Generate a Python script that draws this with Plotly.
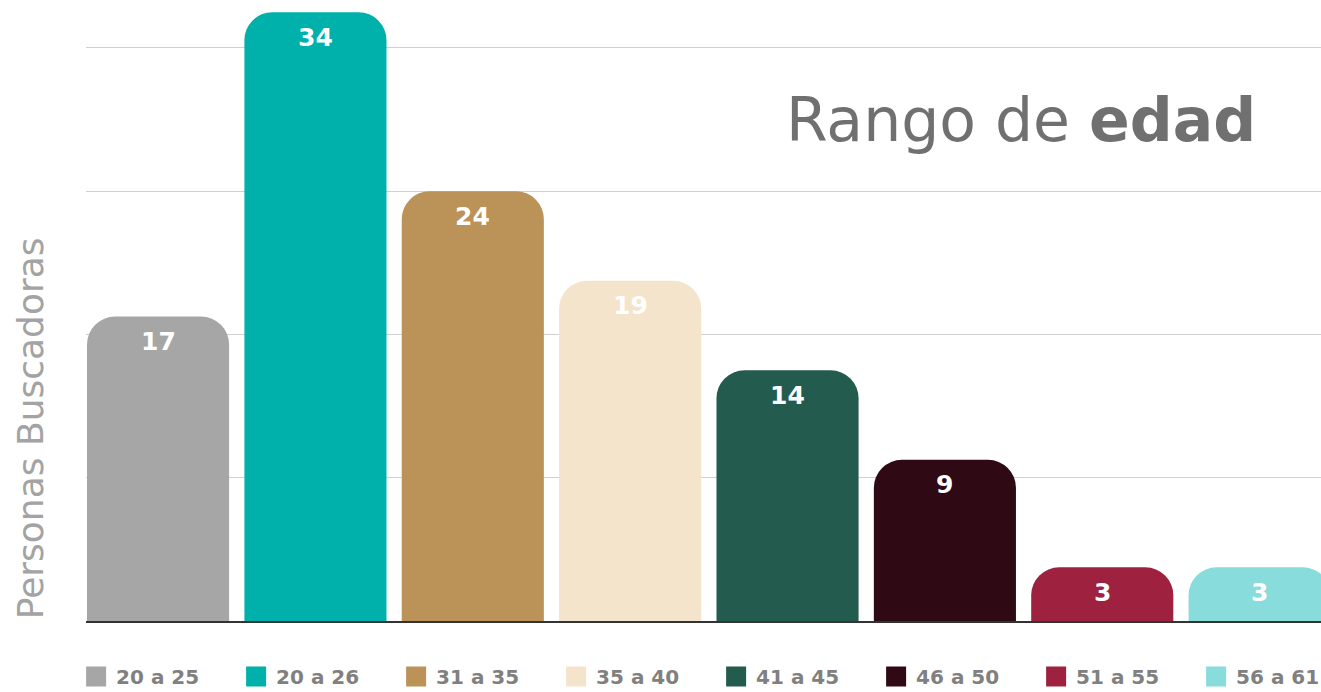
import plotly.graph_objects as go

categories = ["20 a 25", "20 a 26", "31 a 35", "35 a 40", "41 a 45", "46 a 50", "51 a 55", "56 a 61"]
values = [17, 34, 24, 19, 14, 9, 3, 3]
colors = ["#a6a6a6", "#00b0aa", "#bb9257", "#f3e4cb", "#235b4e", "#2f0a14", "#9e2140", "#88dcdb"]
grid_ticks = [8, 16, 24, 32]

fig = go.Figure()
for cat, val, col in zip(categories, values, colors):
    fig.add_trace(go.Bar(x=[cat], y=[val], marker=dict(color=col, cornerradius=28, line=dict(width=0)),
                         showlegend=False, hoverinfo="skip"))
for cat, col in zip(categories, colors):
    fig.add_trace(go.Scatter(x=[None], y=[None], mode="markers", name=cat,
                             marker=dict(symbol="square", size=20, color=col,
                                         line=dict(color=col, width=4))))

for cat, val in zip(categories, values):
    fig.add_annotation(x=cat, y=val, yshift=-25, text="<b>%d</b>" % val, showarrow=False,
                       font=dict(family="DejaVu Sans", size=25, color="white"))

fig.add_annotation(xref="paper", yref="paper", x=0.949, y=0.807, xanchor="right", yanchor="middle",
                   text="Rango de <b>edad</b>", showarrow=False,
                   font=dict(family="DejaVu Sans", size=60, color="#707070"))
fig.add_annotation(xref="paper", yref="paper", x=-0.045, y=0.311, xanchor="center", yanchor="middle",
                   text="Personas Buscadoras", textangle=-90, showarrow=False,
                   font=dict(family="DejaVu Sans", size=36, color="#a3a3a3"))

fig.update_layout(
    width=1321, height=692,
    margin=dict(l=86, r=0, t=0, b=71, autoexpand=False),
    paper_bgcolor="white", plot_bgcolor="white",
    barmode="overlay", bargap=0.097,
    xaxis=dict(range=[-0.458, 7.39], showticklabels=False, showgrid=False, zeroline=False,
               showline=True, linecolor="#333333", linewidth=1.5, ticks=""),
    yaxis=dict(range=[0, 34.68], tickvals=grid_ticks, showticklabels=False, showgrid=True,
               gridcolor="#d0d0d0", gridwidth=1, zeroline=False, showline=False, ticks=""),
    legend=dict(orientation="h", x=-0.008, xanchor="left", y=-0.058, yanchor="top",
                entrywidth=115, itemsizing="trace",
                font=dict(family="DejaVu Sans", size=20, color="#808080", weight="bold")),
    font=dict(family="DejaVu Sans"),
)
fig.write_html("out.html", config={"displayModeBar": False},
               post_script="document.body.style.margin='0';document.body.style.overflow='hidden';")
